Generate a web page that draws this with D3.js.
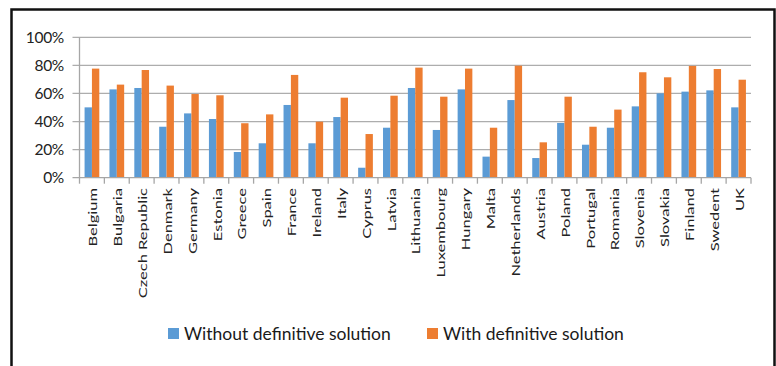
<!DOCTYPE html>
<html><head><meta charset="utf-8">
<script src="https://cdn.jsdelivr.net/npm/d3@7"></script>
<style>
html,body{margin:0;padding:0;background:#fff;}
svg{display:block;}
text{font-family:Lato,"Open Sans",sans-serif;}
</style></head>
<body>
<svg id="c" width="776" height="366"></svg>
<script>
const categories = ["Belgium","Bulgaria","Czech Republic","Denmark","Germany","Estonia","Greece","Spain","France","Ireland","Italy","Cyprus","Latvia","Lithuania","Luxembourg","Hungary","Malta","Netherlands","Austria","Poland","Portugal","Romania","Slovenia","Slovakia","Finland","Swedent","UK"];
const withoutSolution = [50.1,62.9,63.9,36.3,45.8,41.8,18.3,24.5,51.8,24.5,43.2,7.1,35.6,63.9,34.0,62.9,15.0,55.3,14.0,39.0,23.5,35.6,50.8,60.1,61.3,62.2,50.1];
const withSolution = [77.7,66.3,76.7,65.6,59.6,58.7,38.8,45.1,73.2,39.9,57.0,31.1,58.4,78.4,57.7,77.7,35.6,79.8,25.2,57.7,36.3,48.5,75.1,71.5,79.6,77.4,69.8];
const seriesNames = ["Without definitive solution","With definitive solution"];
const seriesColors = ["#5B9BD5","#ED7D31"];
const yTicks = [0,20,40,60,80,100];

const svg = d3.select("#c");
const L = 79.5, R = 751, T = 37.3, B = 177.7;

// frame
svg.append("rect").attr("x",11.5).attr("y",9.5).attr("width",763).attr("height",400)
  .attr("fill","none").attr("stroke","#111").attr("stroke-width",2.5);

const x = d3.scaleBand().domain(categories).range([L,R]).padding(0);
const y = d3.scaleLinear().domain([0,100]).range([B,T]);
const bw = x.bandwidth()*0.296;

// gridlines
svg.append("g").selectAll("line").data(yTicks.filter(d=>d>0)).join("line")
  .attr("x1",L-7).attr("x2",R).attr("y1",d=>y(d)).attr("y2",d=>y(d))
  .attr("stroke","#ADADAD").attr("stroke-width",1.3);

// y axis labels
svg.append("g").selectAll("text").data(yTicks).join("text")
  .attr("x",64).attr("y",d=>y(d)).attr("dy","0.36em")
  .attr("text-anchor","end").attr("font-size",15.5).attr("fill","#222")
  .attr("letter-spacing","-0.3")
  .text(d=>d+"%");

// bars
const data = categories.map((c,i)=>({c, v:[withoutSolution[i], withSolution[i]]}));
const g = svg.append("g");
data.forEach(d=>{
  d.v.forEach((v,k)=>{
    const cx = x(d.c)+x.bandwidth()/2;
    g.append("rect")
      .attr("x", k===0 ? cx-bw : cx)
      .attr("y", y(v)).attr("width", bw).attr("height", y(0)-y(v))
      .attr("fill", seriesColors[k]);
  });
});

// axes lines
svg.append("line").attr("x1",L).attr("x2",L).attr("y1",T).attr("y2",B)
  .attr("stroke","#A6A6A6").attr("stroke-width",1.3);
svg.append("line").attr("x1",L-7).attr("x2",R).attr("y1",B).attr("y2",B)
  .attr("stroke","#A6A6A6").attr("stroke-width",1.3);
// x ticks
const tickXs = categories.map(c=>x(c)).concat([R]);
svg.append("g").selectAll("line").data(tickXs).join("line")
  .attr("x1",d=>d).attr("x2",d=>d).attr("y1",B).attr("y2",B+6)
  .attr("stroke","#A6A6A6").attr("stroke-width",1.3);

// x labels (stretched along their length like the source)
svg.append("g").selectAll("text").data(categories).join("text")
  .attr("transform",d=>`translate(${x(d)+x.bandwidth()/2+1},188) rotate(-90) scale(1.18,0.86)`)
  .attr("text-anchor","end").attr("dy","0.35em")
  .attr("font-size",14).attr("fill","#222")
  .text(d=>d);

// legend
const legend = [{x:168, tx:184}, {x:427, tx:443}];
legend.forEach((p,i)=>{
  svg.append("rect").attr("x",p.x).attr("y",328).attr("width",11).attr("height",11)
    .attr("fill",seriesColors[i]);
  svg.append("text").attr("x",p.tx).attr("y",333.5).attr("dy","0.36em")
    .attr("font-size",17.5).attr("fill","#1a1a1a").text(seriesNames[i]);
});
</script>
</body></html>
